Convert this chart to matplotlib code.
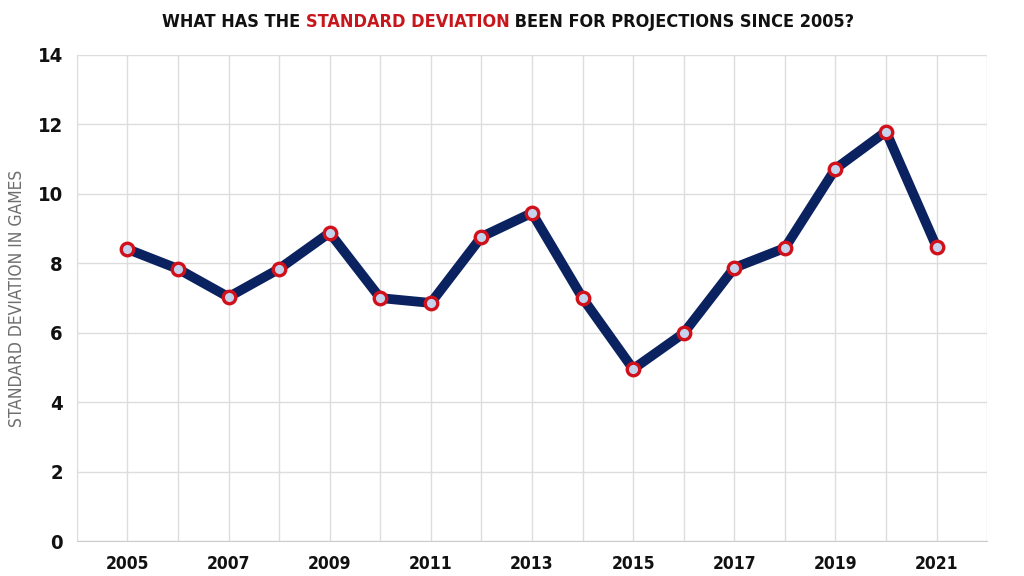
import matplotlib.pyplot as plt
import numpy as np

years = np.arange(2005, 2022)
std_dev = [8.41, 7.84, 7.03, 7.84, 8.88, 7.00, 6.86, 8.76, 9.45,
           7.00, 4.96, 5.99, 7.87, 8.44, 10.72, 11.79, 8.47]
tick_years = list(range(2005, 2022, 2))
title_parts = [('WHAT HAS THE ', '#111111'),
               ('STANDARD DEVIATION', '#c8161d'),
               (' BEEN FOR PROJECTIONS SINCE 2005?', '#111111')]

plt.rcParams['font.family'] = ['DejaVu Sans']

fig = plt.figure(figsize=(10.24, 5.76), dpi=100)
ax = fig.add_axes([0.075, 0.06, 0.889, 0.845])

ax.plot(years, std_dev, color='#0b2260', linewidth=7, solid_capstyle='round',
        marker='o', markersize=9, markerfacecolor='#c5d3ec',
        markeredgecolor='#d0101a', markeredgewidth=2.4, zorder=3)

ax.set_xlim(2004, 2022)
ax.set_ylim(0, 14)
ax.set_xticks(np.arange(2004, 2023), minor=True)
ax.set_xticks(tick_years)
ax.set_xticklabels([str(y) for y in tick_years], fontsize=12.5, fontweight='bold',
                   fontstretch='condensed')
ax.set_yticks(range(0, 15, 2))
ax.set_yticklabels([str(v) for v in range(0, 15, 2)], fontsize=14.5, fontweight='bold',
                   fontstretch='condensed')
ax.tick_params(axis='both', which='both', length=0, pad=10, colors='#111111')
ax.grid(True, which='both', color='#dddddd', linewidth=1)
ax.set_axisbelow(True)
for s in ['top', 'right']:
    ax.spines[s].set_visible(False)
ax.spines['left'].set_color('#dddddd')
ax.spines['bottom'].set_color('#cccccc')

ax.set_ylabel('STANDARD DEVIATION IN GAMES', fontsize=12.5, color='#6e6e6e', labelpad=8,
              fontstretch='condensed')

# title built from coloured pieces laid side by side
renderer = fig.canvas.get_renderer()
texts = []
for s, c in title_parts:
    t = fig.text(0, 0.962, s, ha='left', va='center', fontsize=13, fontweight='bold',
                 color=c, fontstretch='condensed')
    texts.append(t)
widths = [t.get_window_extent(renderer).width for t in texts]
x = (fig.bbox.width - sum(widths)) / 2 - 4
for t, w in zip(texts, widths):
    t.set_x(x / fig.bbox.width)
    x += w

fig.savefig('out.png', dpi=100)
